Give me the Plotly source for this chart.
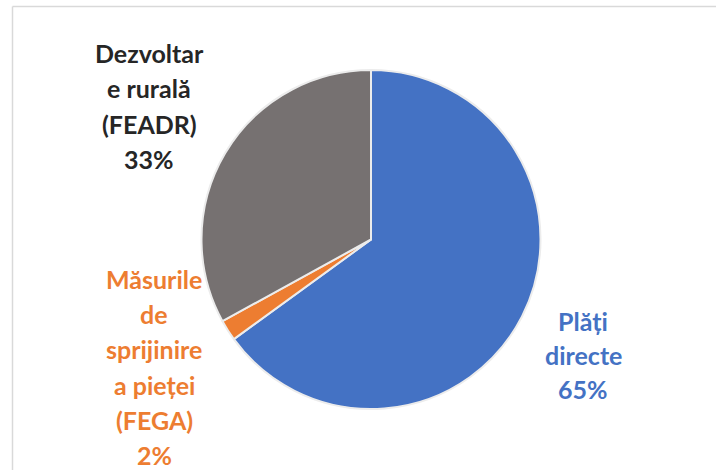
import plotly.graph_objects as go

# Data
categories = ["Plăți directe", "Măsurile de sprijinire a pieței (FEGA)", "Dezvoltare rurală (FEADR)"]
values = [65, 2, 33]
label_lines = [
    ["Plăți", "directe"],
    ["Măsurile", "de", "sprijinire", "a pieței", "(FEGA)"],
    ["Dezvoltar", "e rurală", "(FEADR)"],
]
slice_colors = ["#4472C4", "#ED7D31", "#767171"]
text_colors = ["#4472C4", "#ED7D31", "#262626"]

W, H = 716, 470
total = sum(values)

fig = go.Figure(go.Pie(
    labels=categories,
    values=values,
    sort=False,
    direction="clockwise",
    rotation=0,
    textinfo="none",
    hoverinfo="label+percent",
    marker=dict(colors=slice_colors, line=dict(color="#ECECEC", width=2)),
    domain=dict(x=[200 / W, 542 / W], y=[1 - 409 / H, 1 - 70 / H]),
    showlegend=False,
))

# label layout: (centre x, first line centre y, line step) in pixels
label_layout = [(583, 321, 34), (154, 279, 35.2), (149, 53, 35.3)]
for lines, v, col, (px, py0, step) in zip(label_lines, values, text_colors, label_layout):
    all_lines = lines + [f"{round(100 * v / total)}%"]
    for i, line in enumerate(all_lines):
        fig.add_annotation(
            x=px / W, y=1 - (py0 + i * step) / H, xref="paper", yref="paper",
            text=line, showarrow=False, align="center",
            xanchor="center", yanchor="middle",
            font=dict(family="Lato", size=25, color=col, weight="bold"),
        )

# chart-area frame: only top and left edges are visible in the crop
border = dict(color="#D9D9D9", width=1.5)
fig.add_shape(type="line", xref="paper", yref="paper",
              x0=12.5 / W, x1=1.0, y0=1 - 6.5 / H, y1=1 - 6.5 / H, line=border)
fig.add_shape(type="line", xref="paper", yref="paper",
              x0=12.5 / W, x1=12.5 / W, y0=0.0, y1=1 - 6.5 / H, line=border)

fig.update_layout(
    width=W, height=H,
    margin=dict(l=0, r=0, t=0, b=0),
    paper_bgcolor="white", plot_bgcolor="white",
)

fig.write_html("out.html", config={"displayModeBar": False},
               post_script="document.body.style.margin='0';")
